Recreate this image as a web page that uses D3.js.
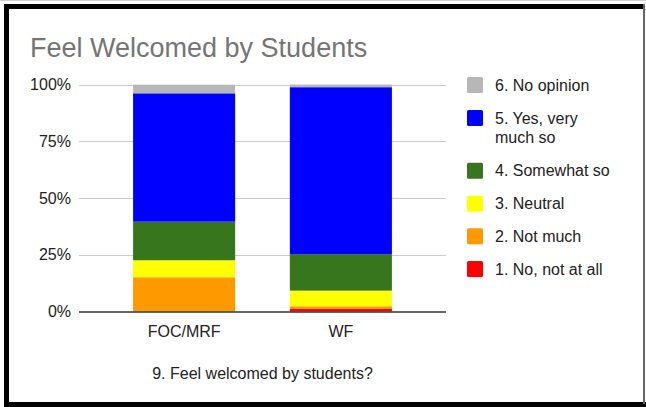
<!DOCTYPE html>
<html>
<head>
<meta charset="utf-8">
<script src="https://cdn.jsdelivr.net/npm/d3@7"></script>
<style>
  html, body { margin: 0; padding: 0; background: #fff; }
  svg { display: block; font-family: "Liberation Sans", Arial, sans-serif; }
</style>
</head>
<body>
<svg id="chart" width="646" height="407"></svg>
<script>
const categories = ["FOC/MRF", "WF"];
const seriesNames = ["1. No, not at all", "2. Not much", "3. Neutral", "4. Somewhat so", "5. Yes, very much so", "6. No opinion"];
const seriesColors = ["#ff0000", "#ff9900", "#ffff00", "#38761d", "#0000ff", "#b7b7b7"];
const noAtAll   = [0, 1.15];
const notMuch   = [15.1, 1.15];
const neutral   = [7.5, 6.9];
const somewhat  = [17.0, 16.1];
const yesVery   = [56.6, 73.6];
const noOpinion = [3.8, 1.15];
const tickValues = [0, 25, 50, 75, 100];
const tickLabels = ["0%", "25%", "50%", "75%", "100%"];
const title = "Feel Welcomed by Students";
const xTitle = "9. Feel welcomed by students?";

const seriesValues = [noAtAll, notMuch, neutral, somewhat, yesVery, noOpinion];
const rows = categories.map((c, i) => {
  const r = { cat: c };
  seriesNames.forEach((s, j) => r[s] = seriesValues[j][i]);
  return r;
});

const svg = d3.select("#chart");

// frame
svg.append("rect").attr("x", 0).attr("y", 0).attr("width", 646).attr("height", 1).attr("fill", "#d0d0d0");
svg.append("rect").attr("x", 4).attr("y", 4).attr("width", 640).attr("height", 5).attr("fill", "#000");
svg.append("rect").attr("x", 4).attr("y", 4).attr("width", 5).attr("height", 403).attr("fill", "#000");
svg.append("rect").attr("x", 4).attr("y", 402).attr("width", 642).attr("height", 5).attr("fill", "#000");
svg.append("rect").attr("x", 643).attr("y", 4).attr("width", 2).attr("height", 400).attr("fill", "#666");

const x0 = 79, x1 = 446;
const y = d3.scaleLinear().domain([0, 100]).range([311.5, 84.7]);
const x = d3.scaleBand().domain(categories).range([x0, x1]).paddingInner(0.349).paddingOuter(0.345);

// title
svg.append("text").attr("x", 30).attr("y", 57).attr("font-size", 27)
  .attr("fill", "#757575").text(title);

// gridlines
svg.append("g").selectAll("line").data(tickValues.filter(v => v > 0)).join("line")
  .attr("x1", x0).attr("x2", x1)
  .attr("y1", d => Math.round(y(d)) + 0.5).attr("y2", d => Math.round(y(d)) + 0.5)
  .attr("stroke", "#cccccc").attr("stroke-width", 1);

// tick labels
svg.append("g").selectAll("text").data(tickValues).join("text")
  .attr("x", 71).attr("y", d => y(d) + 5.5)
  .attr("text-anchor", "end").attr("font-size", 16).attr("fill", "#222")
  .text((d, i) => tickLabels[i]);

// stacked bars
const stack = d3.stack().keys(seriesNames)(rows);
svg.append("g").selectAll("g").data(stack).join("g")
  .attr("fill", (d, i) => seriesColors[i])
  .selectAll("rect").data(d => d).join("rect")
  .attr("x", d => x(d.data.cat))
  .attr("width", x.bandwidth())
  .attr("y", d => y(d[1]))
  .attr("height", d => Math.max(0, y(d[0]) - y(d[1])));

// baseline
svg.append("line").attr("x1", x0).attr("x2", x1)
  .attr("y1", y(0) + 0.5).attr("y2", y(0) + 0.5)
  .attr("stroke", "#333").attr("stroke-width", 1.3);

// x labels
svg.append("g").selectAll("text").data(categories).join("text")
  .attr("x", d => x(d) + x.bandwidth() / 2).attr("y", 337)
  .attr("text-anchor", "middle").attr("font-size", 16).attr("fill", "#222")
  .text(d => d);

// x title
svg.append("text").attr("x", (x0 + x1) / 2).attr("y", 379)
  .attr("text-anchor", "middle").attr("font-size", 16).attr("fill", "#222")
  .text(xTitle);

// legend (top to bottom: 6 .. 1)
const legendOrder = d3.range(seriesNames.length).reverse();
const legendCenters = [85, 118, 170.7, 203.7, 236.3, 269];
const lg = svg.append("g");
legendOrder.forEach((si, k) => {
  const cy = legendCenters[k];
  lg.append("rect").attr("x", 467).attr("y", cy - 8).attr("width", 16).attr("height", 16)
    .attr("rx", 1.5).attr("fill", seriesColors[si]);
  const t = lg.append("text").attr("x", 495).attr("y", cy + 5.5)
    .attr("font-size", 16).attr("fill", "#222");
  const name = seriesNames[si];
  if (name === "5. Yes, very much so") {
    t.append("tspan").attr("x", 495).text("5. Yes, very");
    t.append("tspan").attr("x", 495).attr("dy", 19.5).text("much so");
  } else {
    t.text(name);
  }
});
</script>
</body>
</html>
